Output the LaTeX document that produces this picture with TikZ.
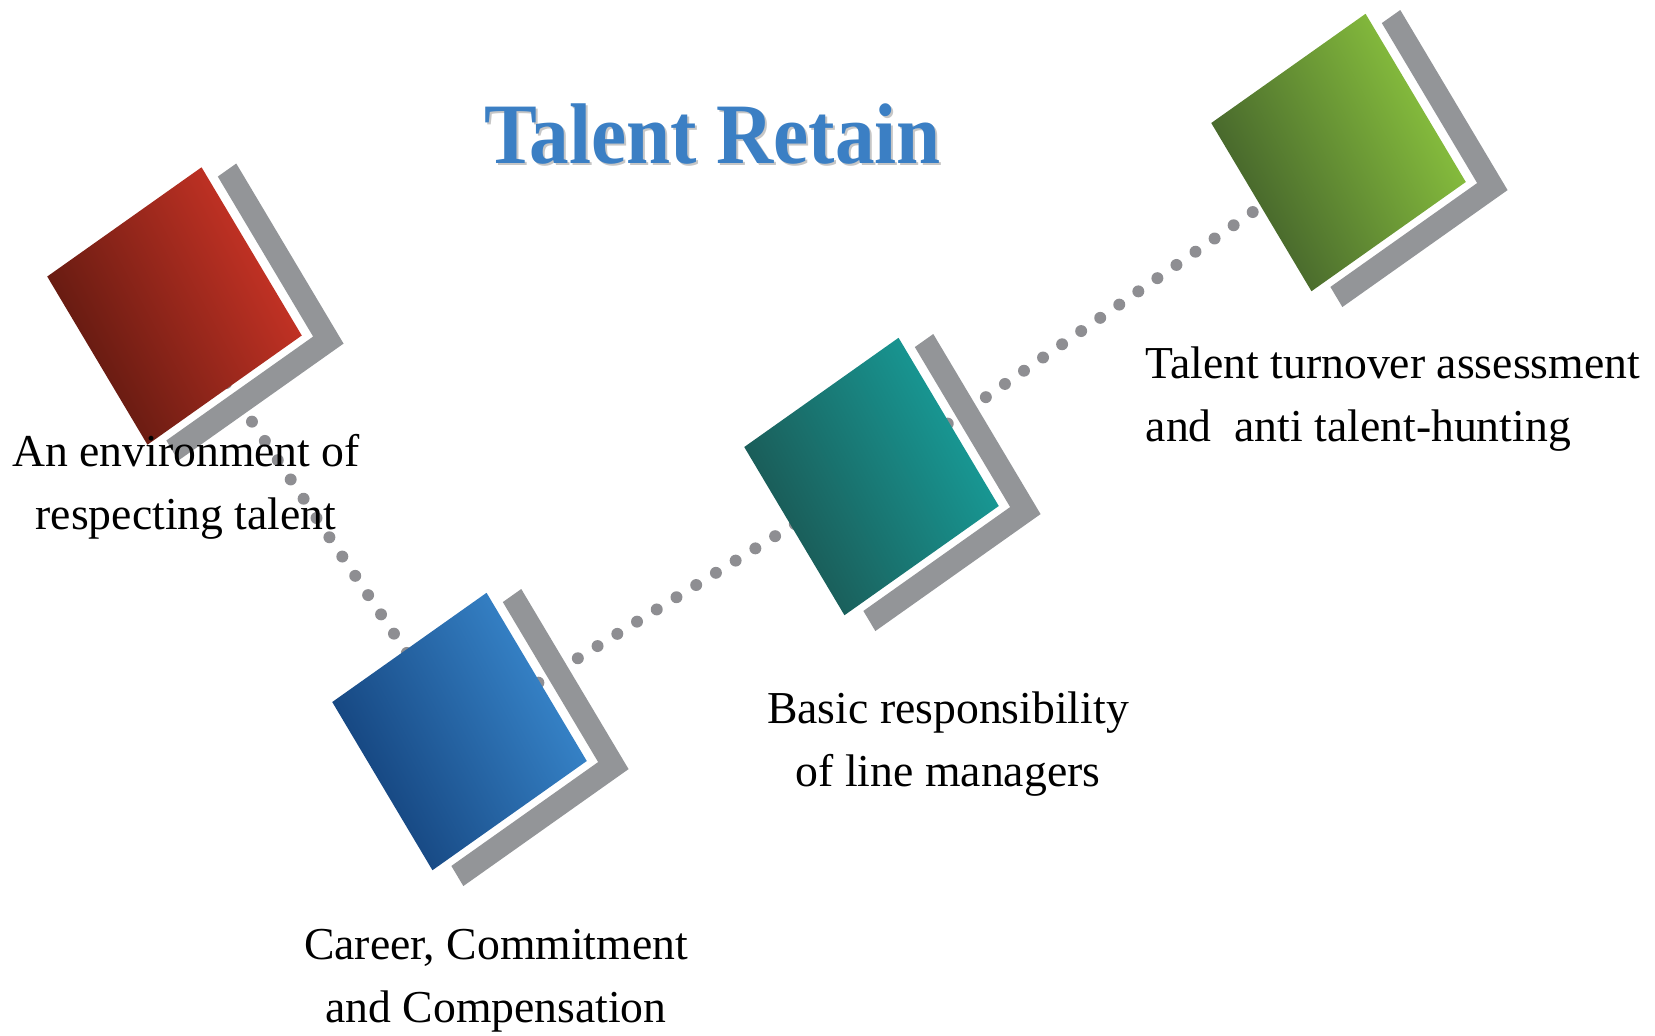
\documentclass[tikz,border=0pt]{standalone}
\usepackage{fontspec}
\usepackage{graphicx}
\setmainfont{Liberation Serif}
\usetikzlibrary{backgrounds}

\definecolor{reddark}{HTML}{5A180F}
\definecolor{redmid}{HTML}{A42419}
\definecolor{redlight}{HTML}{CF3527}
\definecolor{bluedark}{HTML}{123F78}
\definecolor{bluemid}{HTML}{1766B2}
\definecolor{bluelight}{HTML}{3A8AD0}
\definecolor{tealdark}{HTML}{1B5450}
\definecolor{tealmid}{HTML}{12807C}
\definecolor{teallight}{HTML}{17A09C}
\definecolor{greendark}{HTML}{3F5C2A}
\definecolor{greenmid}{HTML}{6E9E35}
\definecolor{greenlight}{HTML}{8EC83F}
\definecolor{bracketgray}{HTML}{939598}
\definecolor{dotgray}{HTML}{8E8E92}
\definecolor{titleblue}{HTML}{3B7FC4}

% gray corner bracket behind a tile
\newcommand{\tilebracket}[1]{%
	\begin{scope}[shift={(#1.center)}, yscale=1.09, rotate=33]
		\fill[bracketgray] (1.01,0.76) -- (1.23,0.76) -- (1.23,-1.21) -- (-0.74,-1.21) -- (-0.74,-0.99) -- (1.01,-0.99) -- cycle;
	\end{scope}}

\begin{document}
\begin{tikzpicture}[
		tile/.style={rectangle, minimum size=1.84cm, inner sep=0pt, yscale=1.09, rotate=33},
		label/.style={align=center, inner sep=0pt, font=\fontsize{13pt}{17.9pt}\selectfont},
		dotline/.style={dotgray, line width=3.4pt, line cap=round, dash pattern=on 0pt off 6.6pt}
		]
		\useasboundingbox (0,0) rectangle (16.55,10.35);
		% Title
		\node[anchor=base, text=gray!45, font=\fontsize{24.5pt}{28pt}\bfseries] (titleshadow) at (7.145,8.695) {\scalebox{0.92}[1]{Talent Retain}};
		\node[anchor=base, text=titleblue, font=\fontsize{24.5pt}{28pt}\bfseries] (title) at (7.125,8.72) {\scalebox{0.92}[1]{Talent Retain}};
		% Tiles
		\node[tile, left color=reddark, middle color=redmid, right color=redlight, shading angle=118] (respect) at (1.745,7.29) {};
		\node[tile, left color=bluedark, middle color=bluemid, right color=bluelight, shading angle=118] (career) at (4.595,3.035) {};
		\node[tile, left color=tealdark, middle color=tealmid, right color=teallight, shading angle=118] (line) at (8.715,5.585) {};
		\node[tile, left color=greendark, middle color=greenmid, right color=greenlight, shading angle=118] (turnover) at (13.385,8.825) {};
		\tilebracket{respect}
		\tilebracket{career}
		\tilebracket{line}
		\tilebracket{turnover}
		% Labels
		\node[label, anchor=north] (respecttext) at (1.86,6.01) {An environment of\\respecting talent};
		\node[label, anchor=north] (careertext) at (4.96,1.06) {Career, Commitment\\and Compensation};
		\node[label, anchor=north] (linetext) at (9.48,3.435) {Basic responsibility\\of line managers};
		\node[label, anchor=north west, align=left] (turnovertext) at (11.45,6.885) {Talent turnover assessment\\and\ \ anti talent-hunting};
		
		% Dotted links
		\begin{scope}[on background layer]
			\draw[dotline] (respect.center) -- (career.center);
			\draw[dotline] (career.center) -- (line.center);
			\draw[dotline] (line.center) -- (turnover.center);
		\end{scope}
	\end{tikzpicture}
\end{document}
